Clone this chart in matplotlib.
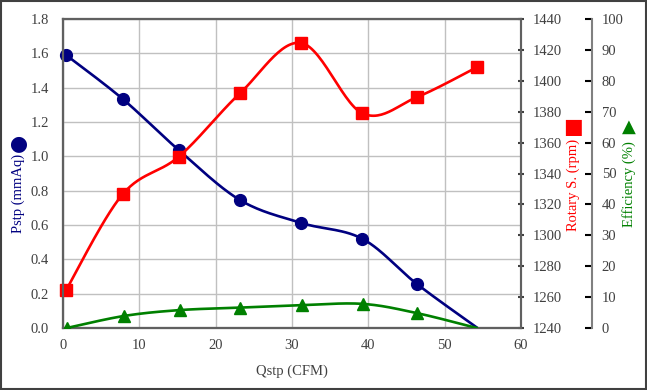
import numpy as np
import matplotlib
matplotlib.use("Agg")
import matplotlib.pyplot as plt
from matplotlib.patches import Rectangle

plt.rcParams['font.family'] = ['Liberation Serif', 'DejaVu Sans']
plt.rcParams['font.size'] = 10.5

# data
qstp = [0.4, 7.8, 15.2, 23.2, 31.2, 39.2, 46.4, 54.3]
pstp = [1.59, 1.335, 1.035, 0.745, 0.612, 0.52, 0.255, 0.0]
rpm = [1264.5, 1326.5, 1351.0, 1392.0, 1424.5, 1379.0, 1389.5, 1409.0]
qstp_eff = [0.5, 8.0, 15.3, 23.2, 31.3, 39.3, 46.4, 54.2]
efficiency = [0.0, 3.9, 5.8, 6.6, 7.4, 7.8, 4.8, 0.0]

x_ticks = [0, 10, 20, 30, 40, 50, 60]
left_ticks = np.arange(0, 1.81, 0.2)
rpm_ticks = np.arange(1240, 1441, 20)
eff_ticks = np.arange(0, 101, 10)

blue = '#000080'
red = '#ff0000'
green = '#008000'
spine_col = '#606060'


def smooth(x, y, n=30):
    # catmull-rom style smoothing like a spreadsheet "smoothed line"
    x = np.asarray(x, float)
    y = np.asarray(y, float)
    px = np.concatenate([[x[0]], x, [x[-1]]])
    py = np.concatenate([[y[0]], y, [y[-1]]])
    xs, ys = [], []
    t = np.linspace(0, 1, n)
    for i in range(1, len(px) - 2):
        p0 = np.array([px[i], py[i]])
        p3 = np.array([px[i + 1], py[i + 1]])
        p1 = p0 + (np.array([px[i + 1], py[i + 1]]) - np.array([px[i - 1], py[i - 1]])) / 6
        p2 = p3 - (np.array([px[i + 2], py[i + 2]]) - np.array([px[i], py[i]])) / 6
        b = ((1 - t) ** 3)[:, None] * p0 + (3 * (1 - t) ** 2 * t)[:, None] * p1 \
            + (3 * (1 - t) * t ** 2)[:, None] * p2 + (t ** 3)[:, None] * p3
        xs.extend(b[:, 0])
        ys.extend(b[:, 1])
    return xs, ys


fig = plt.figure(figsize=(6.47, 3.90), dpi=100)
ax = fig.add_axes([63 / 647, 1 - 328 / 390, 458 / 647, 309 / 390])
ax2 = ax.twinx()
ax3 = ax.twinx()

# pressure
sx, sy = smooth(qstp, pstp)
ax.plot(sx, sy, color=blue, lw=1.9, zorder=3)
ax.plot(qstp[:-1], pstp[:-1], 'o', color=blue, ms=8.5, zorder=4, clip_on=False)

# rotary speed
sx, sy = smooth(qstp, rpm)
ax2.plot(sx, sy, color=red, lw=1.9, zorder=3)
ax2.plot(qstp, rpm, 's', color=red, ms=8, zorder=4, clip_on=False)

# efficiency
sx, sy = smooth(qstp_eff, efficiency)
ax3.plot(sx, sy, color=green, lw=1.9, zorder=3)
ax3.plot(qstp_eff[:-1], efficiency[:-1], '^', color=green, ms=8, zorder=4)

ax.set_xlim(0, 60)
ax.set_ylim(0, 1.8)
ax2.set_ylim(1240, 1440)
ax3.set_ylim(0, 100)

ax.set_xticks(x_ticks)
ax.set_yticks(left_ticks)
ax.set_yticklabels([f'{v:.1f}' for v in left_ticks])
ax2.set_yticks(rpm_ticks)
ax3.set_yticks(eff_ticks)

ax.grid(True, color='#c0c0c0', lw=1.0)
ax.set_axisbelow(True)

for a in (ax, ax2, ax3):
    for s in a.spines.values():
        s.set_color(spine_col)
        s.set_linewidth(1.5)
ax.spines['bottom'].set_color('#404040')

ax.tick_params(axis='both', length=0, colors='#404040', labelcolor='#404040')
ax.tick_params(axis='x', pad=8)
ax.tick_params(axis='y', pad=10)
ax2.tick_params(axis='y', direction='inout', length=5, width=1.5, pad=6,
                colors='#404040', labelcolor='#404040')

ax3.spines['right'].set_position(('axes', 1.155))
ax3.spines['right'].set_color('#808080')
ax3.tick_params(axis='y', direction='in', length=5, width=1.5, pad=7,
                colors='#000000', labelcolor='#404040')

ax.set_xlabel('Qstp (CFM)', color='#404040', labelpad=9)

# axis titles with legend symbols
fig.text(18 / 647, 1 - 193 / 390, 'Pstp (mmAq)', rotation=90, color=blue,
         ha='center', va='center')
fig.text(18 / 647, 1 - 143 / 390, '●', rotation=90, color=blue, fontsize=15,
         family='DejaVu Sans', ha='center', va='center')
fig.text(573 / 647, 1 - 185 / 390, 'Rotary S. (rpm)', rotation=90, color=red,
         ha='center', va='center')
fig.text(573 / 647, 1 - 127 / 390, '■', color=red, fontsize=15,
         family='DejaVu Sans', ha='center', va='center')
fig.text(629 / 647, 1 - 184 / 390, 'Efficiency (%)', rotation=90, color=green,
         ha='center', va='center')
fig.text(629 / 647, 1 - 127 / 390, '▲', color=green, fontsize=13,
         family='DejaVu Sans', ha='center', va='center')

fig.patches.append(Rectangle((0.002, 0.003), 0.996, 0.994, transform=fig.transFigure,
                             fill=False, ec='#404040', lw=1.5))

fig.savefig('out.png', dpi=100)
